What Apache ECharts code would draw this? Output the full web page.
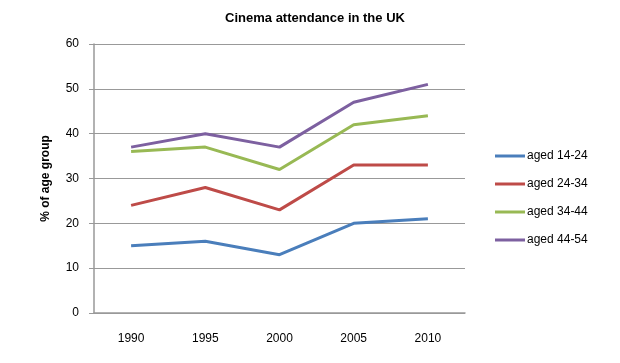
<!DOCTYPE html>
<html><head><meta charset="utf-8">
<script src="https://cdn.jsdelivr.net/npm/echarts@6/dist/echarts.min.js"></script>
<style>html,body{margin:0;padding:0;background:#fff}#c{width:620px;height:363px}</style>
</head><body><div id="c"></div>
<script>
const years = ['1990','1995','2000','2005','2010'];
const seriesNames = ['aged 14-24','aged 24-34','aged 34-44','aged 44-54'];
const aged1424 = [15,16,13,20,21];
const aged2434 = [24,28,23,33,33];
const aged3444 = [36,37,32,42,44];
const aged4454 = [37,40,37,47,51];
const colors = ['#4A7EBB','#BE4B48','#98B954','#7D60A0'];
const allData = [aged1424,aged2434,aged3444,aged4454];
const font = '"Liberation Sans", Arial, sans-serif';
const chart = echarts.init(document.getElementById('c'));
chart.setOption({
  animation:false,
  backgroundColor:'#fff',
  title:{text:'Cinema attendance in the UK',left:310,top:7,textAlign:'center',
    textStyle:{fontFamily:font,fontSize:13,fontWeight:'bold',color:'#000'}},
  grid:{left:94,right:155,top:44,bottom:50},
  legend:{orient:'vertical',left:490,top:144,itemGap:14,itemWidth:30,itemHeight:3,
    icon:'rect',data:seriesNames,
    textStyle:{fontFamily:font,fontSize:12,color:'#000',padding:[0,0,0,-3],lineHeight:14}},
  xAxis:{type:'category',data:years,boundaryGap:true,
    axisLine:{lineStyle:{color:'#999',width:1.5}},axisTick:{show:false},
    axisLabel:{margin:20,fontFamily:font,fontSize:12,color:'#000'}},
  yAxis:{type:'value',min:0,max:60,interval:10,
    name:'% of age group',nameLocation:'middle',nameGap:42,nameRotate:90,
    nameTextStyle:{fontFamily:font,fontSize:12,fontWeight:'bold',color:'#000'},
    axisLine:{show:true,lineStyle:{color:'#999',width:1.5}},
    axisTick:{show:true,length:5,lineStyle:{color:'#999'}},
    axisLabel:{margin:15,fontFamily:font,fontSize:12,color:'#000'},
    splitLine:{lineStyle:{color:'#999',width:1.2}}},
  series: allData.map((d,i)=>({name:seriesNames[i],type:'line',data:d,
    symbol:'none',lineStyle:{width:3,color:colors[i]},itemStyle:{color:colors[i]}}))
});
</script></body></html>
